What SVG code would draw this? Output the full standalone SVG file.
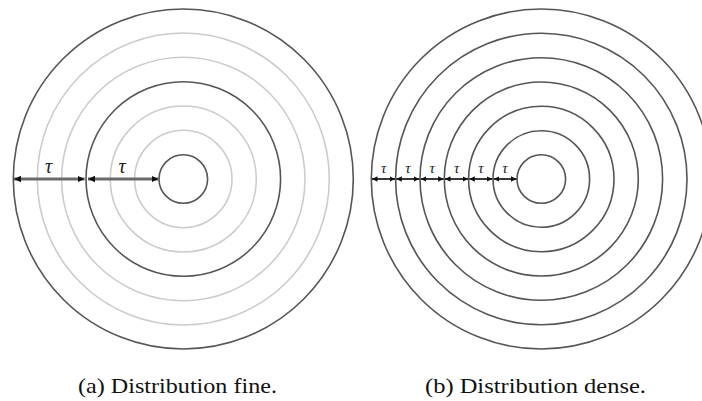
<svg xmlns="http://www.w3.org/2000/svg" width="702" height="401" viewBox="0 0 702 401">
<style>
.dark{fill:none;stroke:#555;stroke-width:1.6}
.light{fill:none;stroke:#ccc;stroke-width:1.6}
.tauL{font-family:"Liberation Serif","DejaVu Serif",serif;font-style:italic;font-size:20px;fill:#222;text-anchor:middle}
.tauS{font-family:"Liberation Serif","DejaVu Serif",serif;font-style:italic;font-size:15px;fill:#222;text-anchor:middle}
.cap{font-family:"Liberation Serif","DejaVu Serif",serif;font-size:22px;fill:#111}
.armL{stroke:#6a6a6a;stroke-width:3}
.armS{stroke:#222;stroke-width:1.8}
</style>
<defs>
<marker id="hL" markerUnits="userSpaceOnUse" markerWidth="8" markerHeight="8" refX="7" refY="4" orient="auto-start-reverse" viewBox="0 0 8 8">
<path d="M0,0.8 L7,4 L0,7.2 Z" fill="#111"/>
</marker>
<marker id="hS" markerUnits="userSpaceOnUse" markerWidth="6" markerHeight="6" refX="5.5" refY="3" orient="auto-start-reverse" viewBox="0 0 6 6">
<path d="M0,0.3 L5.5,3 L0,5.7 Z" fill="#111"/>
</marker>
</defs>
<g id="fine">
<circle class="light" cx="183.3" cy="179" r="146"/>
<circle class="light" cx="183.3" cy="179" r="121.7"/>
<circle class="light" cx="183.3" cy="179" r="73"/>
<circle class="light" cx="183.3" cy="179" r="48.7"/>
<circle class="dark" cx="183.3" cy="179" r="170"/>
<circle class="dark" cx="183.3" cy="179" r="97.3"/>
<circle class="dark" cx="183.3" cy="179" r="24.3"/>
</g>
<g id="dense">
<circle class="dark" cx="541.3" cy="179" r="170"/>
<circle class="dark" cx="541.3" cy="179" r="145.7"/>
<circle class="dark" cx="541.3" cy="179" r="121.3"/>
<circle class="dark" cx="541.3" cy="179" r="97"/>
<circle class="dark" cx="541.3" cy="179" r="72.7"/>
<circle class="dark" cx="541.3" cy="179" r="48.3"/>
<circle class="dark" cx="541.3" cy="179" r="24.3"/>
</g>
<g id="connectors">
<line class="armL" x1="14" y1="179" x2="84.5" y2="179" marker-start="url(#hL)" marker-end="url(#hL)"/>
<line class="armL" x1="88" y1="179" x2="158.5" y2="179" marker-start="url(#hL)" marker-end="url(#hL)"/>
<line class="armS" x1="372" y1="179" x2="395" y2="179" marker-start="url(#hS)" marker-end="url(#hS)"/>
<line class="armS" x1="396.3" y1="179" x2="419.3" y2="179" marker-start="url(#hS)" marker-end="url(#hS)"/>
<line class="armS" x1="420.7" y1="179" x2="443.6" y2="179" marker-start="url(#hS)" marker-end="url(#hS)"/>
<line class="armS" x1="445" y1="179" x2="468" y2="179" marker-start="url(#hS)" marker-end="url(#hS)"/>
<line class="armS" x1="469.3" y1="179" x2="492.3" y2="179" marker-start="url(#hS)" marker-end="url(#hS)"/>
<line class="armS" x1="493.7" y1="179" x2="516.5" y2="179" marker-start="url(#hS)" marker-end="url(#hS)"/>
</g>
<g id="labels">
<text class="tauL" x="48.5" y="173">τ</text>
<text class="tauL" x="122" y="173">τ</text>
<text class="tauS" x="383.6" y="173">τ</text>
<text class="tauS" x="408" y="173">τ</text>
<text class="tauS" x="432.3" y="173">τ</text>
<text class="tauS" x="456.6" y="173">τ</text>
<text class="tauS" x="481" y="173">τ</text>
<text class="tauS" x="505" y="173">τ</text>
</g>
<text class="cap" x="78" y="393" textLength="199" lengthAdjust="spacingAndGlyphs">(a) Distribution fine.</text>
<text class="cap" x="425" y="393" textLength="221" lengthAdjust="spacingAndGlyphs">(b) Distribution dense.</text>
</svg>
